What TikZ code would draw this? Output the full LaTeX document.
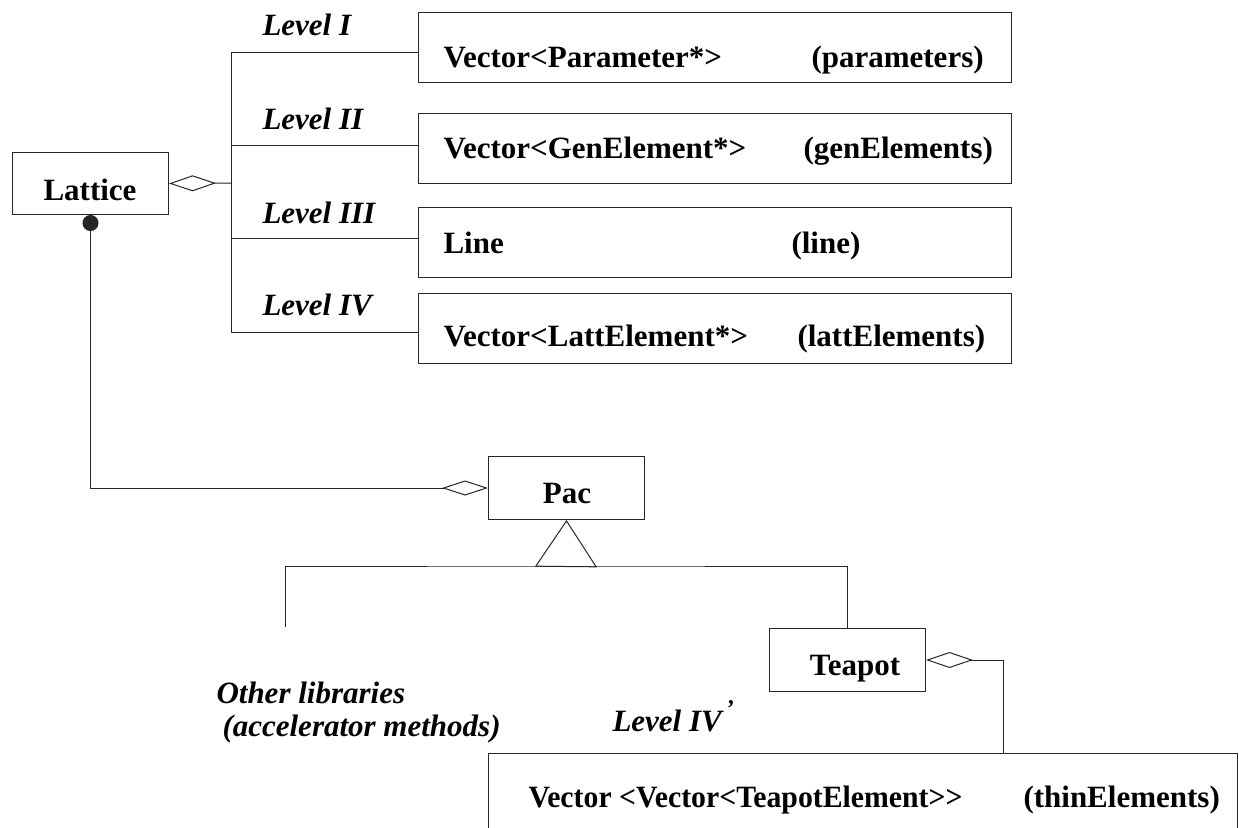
\documentclass[tikz,border=0pt]{standalone}
\usepackage{fontspec}
\setmainfont{Liberation Serif}
\usetikzlibrary{arrows.meta}
\begin{document}
\begin{tikzpicture}[x=1pt,y=-1pt,
  line width=1pt,
  box/.style={draw=black!85, line width=1pt, rectangle, inner sep=0pt, anchor=north west},
  lbl/.style={inner sep=0pt, anchor=base west, font=\fontsize{31}{36}\selectfont\bfseries},
  lvl/.style={inner sep=0pt, anchor=base west, font=\fontsize{31}{36}\selectfont\bfseries\itshape},
  wire/.style={draw=black!85, line width=1pt},
  aggr/.style={wire, {Diamond[open,length=47pt,width=16pt,line width=1pt]}-},
  inherit/.style={wire, {Triangle[open,length=47pt,width=62pt,line width=1pt]}-}]
\useasboundingbox (0,0) rectangle (1239,827);
\clip (0,0) rectangle (1239,827);

% class boxes
\node[box, minimum width=156pt, minimum height=62pt] (lat) at (12,152) {};
\node[lbl, anchor=base] (latT) at (90,200) {Lattice};

\node[box, minimum width=593pt, minimum height=70pt] (b1) at (418,12) {};
\node[box, minimum width=593pt, minimum height=70pt] (b2) at (418,113) {};
\node[box, minimum width=593pt, minimum height=70pt] (b3) at (418,207) {};
\node[box, minimum width=593pt, minimum height=70pt] (b4) at (418,293) {};

\node[lbl] (t1a) at (443,67) {Vector<Parameter*>};
\node[lbl] (t1b) at (811,67) {(parameters)};
\node[lbl] (t2a) at (443,158) {Vector<GenElement*>};
\node[lbl] (t2b) at (803,158) {(genElements)};
\node[lbl] (t3a) at (443,253) {Line};
\node[lbl] (t3b) at (791,253) {(line)};
\node[lbl] (t4a) at (443,346) {Vector<LattElement*>};
\node[lbl] (t4b) at (797,346) {(lattElements)};

\node[lvl] (l1) at (262,35) {Level I};
\node[lvl] (l2) at (262,129) {Level II};
\node[lvl] (l3) at (262,223) {Level III};
\node[lvl] (l4) at (262,315) {Level IV};

\node[box, minimum width=156pt, minimum height=63pt] (pac) at (488,456) {};
\node[lbl, anchor=base] (pacT) at (567,503) {Pac};

\node[box, minimum width=156pt, minimum height=63pt] (tea) at (769,628) {};
\node[lbl, anchor=base] (teaT) at (855,675) {Teapot};

\node[box, minimum width=749pt, minimum height=140pt] (thin) at (488,753) {};
\node[lbl] (thinA) at (528,807) {\scalebox{0.96}[1]{Vector <Vector<TeapotElement>{}>}};
\node[lbl] (thinB) at (1023,807) {(thinElements)};

\node[lvl] (oth1) at (216,703) {Other libraries};
\node[lvl] (oth2) at (222,736) {(accelerator methods)};
\node[lvl] (l4p) at (612,731) {Level IV\hspace{4pt}\raisebox{15pt}{\fontsize{24}{24}\selectfont ’}};

% junction points
\coordinate (busL) at (231,183);
\coordinate (bus1) at (231,52);
\coordinate (bus2) at (231,145);
\coordinate (bus3) at (231,238);
\coordinate (bus4) at (231,332);
\coordinate (gen) at (566,566);
\coordinate (othEnd) at (285,627);
\coordinate (thinJ) at (1003,753);

% Lattice aggregates the four levels
\draw[aggr] (lat.east) -- (busL);
\draw[wire] (bus1) -- (bus4);
\draw[wire] (bus1) -- (bus1 -| b1.west);
\draw[wire] (bus2) -- (bus2 -| b2.west);
\draw[wire] (bus3) -- (bus3 -| b3.west);
\draw[wire] (bus4) -- (bus4 -| b4.west);

% Pac holds the Lattice
\draw[wire, {Circle[length=16pt,width=16pt]}-{Diamond[open,length=46pt,width=15pt,line width=1pt]}] (lat.south) |- (pac.west);

% generalisation of Pac
\draw[inherit] (pac.south) -- (gen);
\draw[wire] (othEnd) |- (gen) -| (tea.north);

% Teapot aggregates its thin elements
\draw[aggr] (tea.east) -| (thinJ);
\end{tikzpicture}
\end{document}
